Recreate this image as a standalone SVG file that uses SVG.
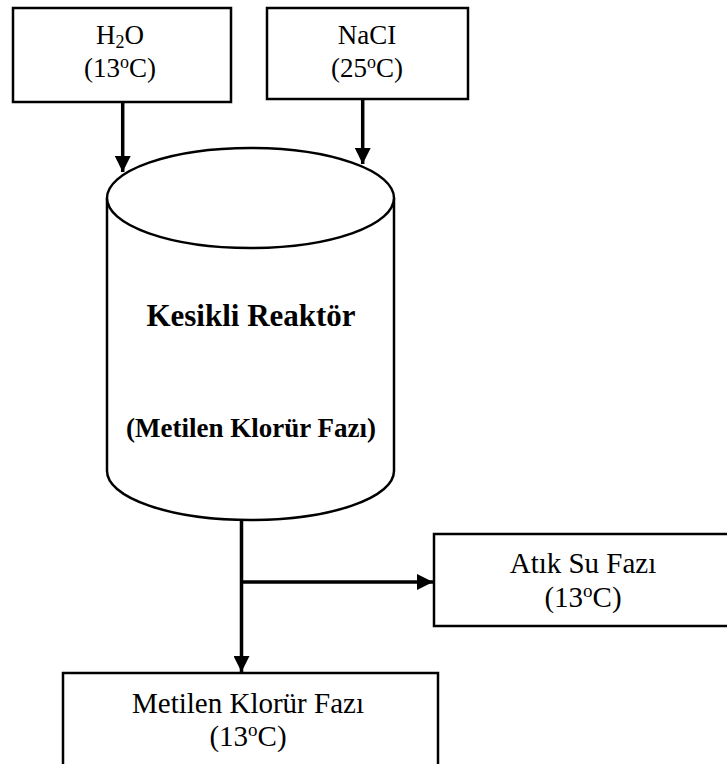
<svg xmlns="http://www.w3.org/2000/svg" width="727" height="764" viewBox="0 0 727 764">
<defs>
<style>
.box{fill:#fff;stroke:#000;stroke-width:2.5}
.t{font-family:"Liberation Serif","Times New Roman",serif;font-size:29px;fill:#000;text-anchor:middle}
.s{font-size:27px}
.b{font-family:"Liberation Serif","Times New Roman",serif;font-weight:bold;fill:#000;text-anchor:middle}
.c{fill:none;stroke:#000;stroke-width:3.5}
.cyl{fill:#fff;stroke:#000;stroke-width:2.5}
</style>
<marker id="ah" markerWidth="16" markerHeight="16" refX="16" refY="8" orient="auto" markerUnits="userSpaceOnUse">
<path d="M0,0 L16,8 L0,16 Z" fill="#000"/>
</marker>
</defs>
<rect width="727" height="764" fill="#fff"/>
<g id="reactor">
<path class="cyl" d="M107,198 L107,471 A143.5,49 0 0 0 394,471 L394,198"/>
<ellipse class="cyl" cx="250.5" cy="198" rx="143.5" ry="50"/>
<text class="b" x="251" y="326" font-size="31">Kesikli Reaktör</text>
<text class="b" x="251" y="437" font-size="27">(Metilen Klorür Fazı)</text>
</g>
<g id="h2o">
<rect class="box" x="13" y="8" width="218" height="94"/>
<text class="t s" x="120" y="44">H<tspan font-size="18" dy="4">2</tspan><tspan dy="-4">O</tspan></text>
<text class="t s" x="120" y="77">(13<tspan font-size="18" dy="-9">o</tspan><tspan dy="9">C)</tspan></text>
</g>
<g id="nacl">
<rect class="box" x="267" y="8" width="201" height="91"/>
<text class="t s" x="367" y="44">NaCI</text>
<text class="t s" x="367" y="77">(25<tspan font-size="18" dy="-9">o</tspan><tspan dy="9">C)</tspan></text>
</g>
<g id="atik">
<rect class="box" x="434" y="534" width="300" height="92"/>
<text class="t" x="583" y="573">Atık Su Fazı</text>
<text class="t" x="583" y="607">(13<tspan font-size="19" dy="-10">o</tspan><tspan dy="10">C)</tspan></text>
</g>
<g id="metilen">
<rect class="box" x="63" y="673" width="375" height="100"/>
<text class="t" x="248" y="713">Metilen Klorür Fazı</text>
<text class="t" x="248" y="746">(13<tspan font-size="19" dy="-10">o</tspan><tspan dy="10">C)</tspan></text>
</g>
<g id="connectors">
<line class="c" x1="122.7" y1="103" x2="122.7" y2="172" marker-end="url(#ah)"/>
<line class="c" x1="362.7" y1="100" x2="362.7" y2="164" marker-end="url(#ah)"/>
<line class="c" x1="241.5" y1="520" x2="241.5" y2="672" marker-end="url(#ah)"/>
<line class="c" x1="241.5" y1="582" x2="433" y2="582" marker-end="url(#ah)"/>
</g>
</svg>
